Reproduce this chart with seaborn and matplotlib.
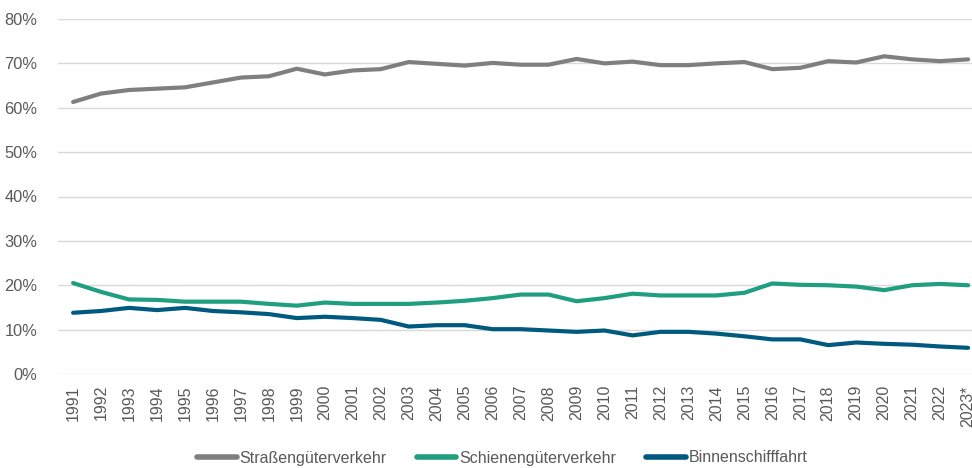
import matplotlib
matplotlib.use("Agg")
import matplotlib.pyplot as plt
import matplotlib.ticker as mtick
import numpy as np
import pandas as pd
import seaborn as sns

# Modal split im Güterverkehr, Anteile in Prozent
YEARS = [str(y) for y in range(1991, 2023)] + ["2023*"]

STRASSE = [61.3, 63.2, 64.0, 64.3, 64.6, 65.7, 66.8, 67.1, 68.8, 67.5,
           68.4, 68.7, 70.3, 69.9, 69.5, 70.1, 69.7, 69.7, 71.0, 70.0,
           70.4, 69.6, 69.6, 70.0, 70.3, 68.7, 69.0, 70.5, 70.2, 71.6,
           70.9, 70.5, 70.9]

SCHIENE = [20.5, 18.5, 16.8, 16.7, 16.3, 16.3, 16.3, 15.8, 15.4, 16.1,
           15.8, 15.8, 15.8, 16.1, 16.5, 17.1, 17.9, 17.9, 16.4, 17.1,
           18.1, 17.7, 17.7, 17.7, 18.3, 20.4, 20.1, 20.0, 19.7, 18.9,
           20.0, 20.3, 20.0]

BINNEN = [13.8, 14.2, 14.9, 14.4, 14.9, 14.2, 13.9, 13.5, 12.6, 12.9,
          12.6, 12.2, 10.7, 11.0, 11.0, 10.1, 10.1, 9.8, 9.5, 9.8,
          8.7, 9.5, 9.5, 9.1, 8.5, 7.8, 7.8, 6.5, 7.1, 6.8,
          6.6, 6.2, 5.9]

SERIES = ["Straßengüterverkehr", "Schienengüterverkehr", "Binnenschifffahrt"]
COLORS = ["#7f7f7f", "#1f9e80", "#005a80"]
TEXT_COLOR = "#595959"


def build_frame():
    rows = []
    for name, values in zip(SERIES, [STRASSE, SCHIENE, BINNEN]):
        for i, v in enumerate(values):
            rows.append({"pos": i, "Jahr": YEARS[i], "Verkehrsträger": name, "Anteil": v / 100})
    return pd.DataFrame(rows)


def main():
    sns.set_theme(style="white")
    plt.rcParams["font.family"] = ["Liberation Sans", "DejaVu Sans"]

    df = build_frame()

    fig = plt.figure(figsize=(9.72, 4.68), dpi=100)
    ax = fig.add_axes([58 / 972, 94 / 468, 914 / 972, 355 / 468])

    sns.lineplot(data=df, x="pos", y="Anteil", hue="Verkehrsträger",
                 hue_order=SERIES, palette=COLORS, linewidth=3,
                 ax=ax, legend=False)

    ax.set_xlim(-0.54, 32.14)
    ax.set_ylim(0, 0.8)
    ax.yaxis.set_major_locator(mtick.MultipleLocator(0.1))
    ax.yaxis.set_major_formatter(mtick.PercentFormatter(1.0, decimals=0))
    ax.set_xticks(range(len(YEARS)))
    ax.set_xticklabels(YEARS, rotation=90, va="top", ha="center")

    ax.grid(axis="y", color="#d9d9d9", linewidth=1)
    ax.grid(axis="x", visible=False)
    ax.set_axisbelow(True)
    for s in ax.spines.values():
        s.set_visible(False)

    ax.tick_params(axis="y", length=0, pad=15, labelsize=11.8, labelcolor=TEXT_COLOR)
    ax.tick_params(axis="x", length=0, pad=8, labelsize=11.5, labelcolor=TEXT_COLOR)
    ax.set_xlabel("")
    ax.set_ylabel("")

    handles = [plt.Line2D([], [], color=c, linewidth=4) for c in COLORS]
    fig.legend(handles, SERIES, loc="center", bbox_to_anchor=(502 / 972, 1 - 458 / 468),
               ncol=3, frameon=False, fontsize=11.5, labelcolor=TEXT_COLOR,
               handlelength=2.5, handletextpad=0.15, columnspacing=1.9)

    fig.savefig("out.png", dpi=100)


if __name__ == "__main__":
    main()
